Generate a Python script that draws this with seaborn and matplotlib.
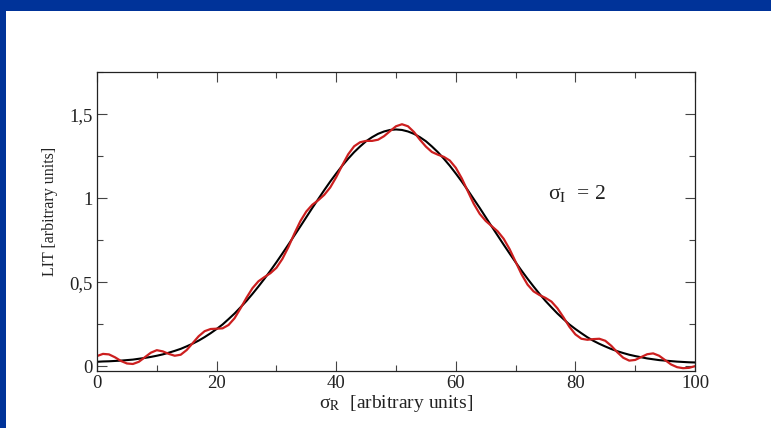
import matplotlib
matplotlib.use("Agg")
import matplotlib.pyplot as plt
import seaborn as sns
import pandas as pd
from matplotlib.ticker import MultipleLocator, FuncFormatter
from matplotlib.patches import Rectangle

sigma_r = list(range(0, 101))

lit_smooth = [
    0.028, 0.030, 0.031, 0.033, 0.035, 0.038, 0.041, 0.046, 0.051, 0.057,
    0.064, 0.072, 0.082, 0.093, 0.105, 0.120, 0.136, 0.154, 0.175, 0.198,
    0.223, 0.250, 0.282, 0.315, 0.352, 0.390, 0.432, 0.476, 0.522, 0.570,
    0.620, 0.672, 0.725, 0.779, 0.833, 0.888, 0.943, 0.996, 1.049, 1.100,
    1.148, 1.194, 1.236, 1.275, 1.309, 1.340, 1.364, 1.384, 1.398, 1.407,
    1.410, 1.407, 1.398, 1.384, 1.364, 1.340, 1.309, 1.275, 1.236, 1.194,
    1.148, 1.100, 1.049, 0.996, 0.943, 0.888, 0.833, 0.779, 0.725, 0.672,
    0.620, 0.570, 0.522, 0.476, 0.432, 0.390, 0.352, 0.315, 0.282, 0.250,
    0.223, 0.198, 0.174, 0.153, 0.135, 0.119, 0.104, 0.091, 0.080, 0.070,
    0.062, 0.055, 0.048, 0.043, 0.038, 0.035, 0.032, 0.029, 0.027, 0.025,
    0.024,
]

lit_wavy = [
    0.062, 0.075, 0.072, 0.055, 0.033, 0.018, 0.015, 0.028, 0.055, 0.082,
    0.097, 0.090, 0.075, 0.064, 0.070, 0.098, 0.139, 0.180, 0.210, 0.223,
    0.225, 0.227, 0.247, 0.287, 0.346, 0.409, 0.466, 0.507, 0.532, 0.555,
    0.587, 0.640, 0.710, 0.790, 0.864, 0.922, 0.962, 0.989, 1.021, 1.065,
    1.126, 1.196, 1.262, 1.310, 1.334, 1.342, 1.342, 1.349, 1.370, 1.400,
    1.429, 1.441, 1.429, 1.395, 1.349, 1.308, 1.276, 1.260, 1.247, 1.225,
    1.182, 1.119, 1.043, 0.968, 0.908, 0.866, 0.835, 0.804, 0.760, 0.698,
    0.623, 0.548, 0.487, 0.447, 0.425, 0.408, 0.386, 0.346, 0.293, 0.236,
    0.191, 0.165, 0.159, 0.163, 0.165, 0.153, 0.123, 0.085, 0.052, 0.035,
    0.039, 0.056, 0.073, 0.078, 0.064, 0.038, 0.012, -0.004, -0.010, -0.008,
    0.002,
]

x_ticks = [0, 20, 40, 60, 80, 100]
y_ticks = [0, 0.5, 1.0, 1.5]

df = pd.DataFrame({"sigma_r": sigma_r, "smooth": lit_smooth, "wavy": lit_wavy})

sns.set_style("ticks")
plt.rcParams["font.family"] = ["Liberation Serif", "DejaVu Serif"]
plt.rcParams["mathtext.fontset"] = "stix"

fig = plt.figure(figsize=(7.71, 4.28), dpi=100)
fig.patch.set_facecolor("white")

# blue frame (top and left bands)
fig.patches.append(Rectangle((0, 1 - 11 / 428), 1, 11 / 428, transform=fig.transFigure,
                             facecolor="#003399", edgecolor="none", zorder=0))
fig.patches.append(Rectangle((0, 0), 6 / 771, 1, transform=fig.transFigure,
                             facecolor="#003399", edgecolor="none", zorder=0))

ax = fig.add_axes([97 / 771, 1 - 370.7 / 428, (695 - 97) / 771, (370.7 - 72.3) / 428])

sns.lineplot(data=df, x="sigma_r", y="smooth", ax=ax, color="black", linewidth=1.5)
sns.lineplot(data=df, x="sigma_r", y="wavy", ax=ax, color="#cc1f1f", linewidth=1.6)

ax.set_xlim(0, 100)
ax.set_ylim(-0.025, 1.75)
ax.set_xticks(x_ticks)
ax.set_yticks(y_ticks)
ax.xaxis.set_minor_locator(MultipleLocator(10))
ax.yaxis.set_minor_locator(MultipleLocator(0.25))


def comma_fmt(v, pos):
    s = f"{v:g}"
    return s.replace(".", ",")


ax.yaxis.set_major_formatter(FuncFormatter(comma_fmt))
ax.tick_params(which="both", direction="in", top=True, right=True, width=0.8,
               colors="#444444", labelcolor="#222222")
ax.tick_params(which="major", length=7, labelsize=13.5, pad=3)
ax.tick_params(which="minor", length=4)
for s in ax.spines.values():
    s.set_linewidth(0.9)
    s.set_color("#222222")

ax.set_xlabel(r"σ$_{\mathrm{R}}$  [arbitrary units]", fontsize=14, labelpad=1, color="#222222")
ax.set_ylabel("LIT [arbitrary units]", fontsize=11.5, color="#222222")
ax.yaxis.set_label_coords(-0.066, 0.535)

ax.text(0.754, 0.593, r"σ$_{\mathrm{I}}$  = 2", transform=ax.transAxes,
        fontsize=15.5, ha="left", va="center", color="#222222")

fig.savefig("out.png", dpi=100, facecolor="white")
